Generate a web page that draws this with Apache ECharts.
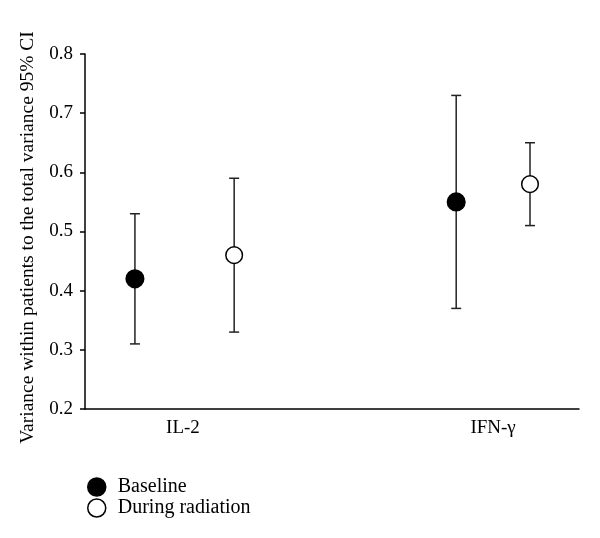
<!DOCTYPE html>
<html><head><meta charset="utf-8">
<script src="https://cdn.jsdelivr.net/npm/echarts@6/dist/echarts.min.js"></script>
<style>html,body{margin:0;padding:0;background:#fff}#c{width:600px;height:538px}</style>
</head><body><div id="c"></div>
<script>
var categories = ['IL-2', 'IFN-\u03b3'];
var seriesNames = ['Baseline', 'During radiation'];
var baselineMean = [0.42, 0.55];
var baselineLow = [0.31, 0.37];
var baselineHigh = [0.53, 0.73];
var duringMean = [0.46, 0.58];
var duringLow = [0.33, 0.51];
var duringHigh = [0.59, 0.65];
var yTicks = [0.2, 0.3, 0.4, 0.5, 0.6, 0.7, 0.8];

// horizontal offsets within each category group (layout)
var groupOffsets = [[-0.155, -0.119], [0.165, 0.119]];
var FONT = 'Liberation Serif';

function build(si, mean, low, high, filled) {
  return {
    type: 'custom',
    name: seriesNames[si],
    itemStyle: {color: filled ? '#000' : '#fff', borderColor: '#000', borderWidth: 1.5},
    renderItem: function (params, api) {
      var ci = api.value(0);
      var x = ci + groupOffsets[si][ci];
      var pm = api.coord([x, api.value(1)]);
      var pl = api.coord([x, api.value(2)]);
      var ph = api.coord([x, api.value(3)]);
      var cap = 5;
      var ls = {stroke: '#222', lineWidth: 1.5};
      return {
        type: 'group',
        children: [
          {type: 'line', shape: {x1: pm[0], y1: pl[1], x2: pm[0], y2: ph[1]}, style: ls},
          {type: 'line', shape: {x1: pm[0] - cap, y1: pl[1], x2: pm[0] + cap, y2: pl[1]}, style: ls},
          {type: 'line', shape: {x1: pm[0] - cap, y1: ph[1], x2: pm[0] + cap, y2: ph[1]}, style: ls},
          {type: 'circle', shape: {cx: pm[0], cy: pm[1], r: filled ? 8.8 : 8.3},
           style: {fill: filled ? '#000' : '#fff', stroke: '#000', lineWidth: 1.5}}
        ]
      };
    },
    data: categories.map(function (c, i) { return [i, mean[i], low[i], high[i]]; })
  };
}

var chart = echarts.init(document.getElementById('c'));
chart.setOption({
  animation: false,
  backgroundColor: '#fff',
  grid: {left: 85, top: 54, right: 21, bottom: 129},
  legend: {
    orient: 'vertical', left: 82, top: 472, itemGap: 1,
    itemWidth: 18, itemHeight: 18, icon: 'circle',
    textStyle: {fontFamily: FONT, fontSize: 20, color: '#000', padding: [0, 0, 0, 7]},
    data: [
      {name: seriesNames[0], itemStyle: {color: '#000', borderColor: '#000', borderWidth: 1.5}},
      {name: seriesNames[1], itemStyle: {color: '#fff', borderColor: '#000', borderWidth: 1.5}}
    ]
  },
  xAxis: {
    type: 'value', min: -0.316, max: 1.277,
    splitLine: {show: false},
    axisLine: {show: true, onZero: false, lineStyle: {color: '#000', width: 1.5}},
    axisTick: {show: false},
    axisLabel: {
      customValues: [0, 1], margin: 10,
      fontFamily: FONT, fontSize: 19, color: '#000',
      formatter: function (v) { return categories[Math.round(v)]; }
    }
  },
  yAxis: {
    type: 'value', min: 0.2, max: 0.8, interval: 0.1,
    name: 'Variance within patients to the total variance 95% CI',
    nameLocation: 'middle', nameGap: 41, nameRotate: 90,
    nameTextStyle: {fontFamily: FONT, fontSize: 19.5, color: '#000', padding: [0, 12, 0, 0]},
    splitLine: {show: false},
    axisLine: {show: true, onZero: false, lineStyle: {color: '#000', width: 1.5}},
    axisTick: {show: true, length: 5, lineStyle: {color: '#000', width: 1.5}},
    axisLabel: {
      margin: 12, fontFamily: FONT, fontSize: 19, color: '#000',
      formatter: function (v) { return v.toFixed(1); }
    }
  },
  series: [
    build(0, baselineMean, baselineLow, baselineHigh, true),
    build(1, duringMean, duringLow, duringHigh, false)
  ]
});
</script></body></html>
